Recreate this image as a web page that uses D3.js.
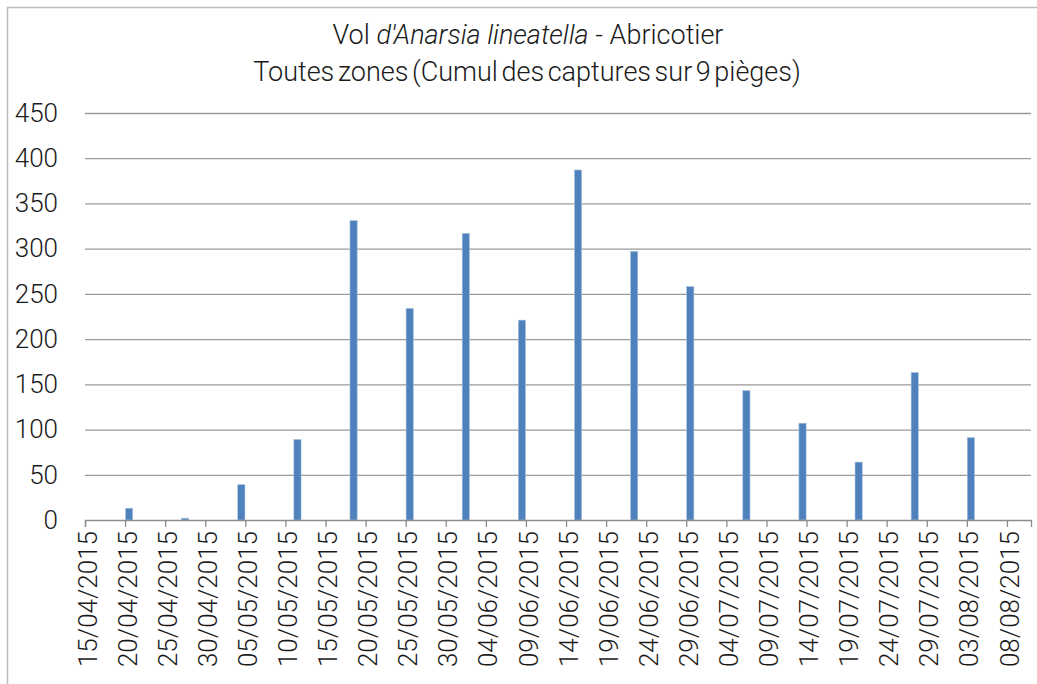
<!DOCTYPE html>
<html>
<head>
<meta charset="utf-8">
<script src="https://cdn.jsdelivr.net/npm/d3@7"></script>
<style>
  body { margin: 0; background: #fff; }
  text { font-family: Roboto, "Open Sans", sans-serif; font-weight: 300; fill: #1a1a1a; }
</style>
</head>
<body>
<div id="chart"></div>
<script>
// chart data
var dates = ["20/04/2015", "27/04/2015", "04/05/2015", "11/05/2015", "18/05/2015", "25/05/2015",
  "01/06/2015", "08/06/2015", "15/06/2015", "22/06/2015", "29/06/2015", "06/07/2015",
  "13/07/2015", "20/07/2015", "27/07/2015", "03/08/2015"];
var captures = [13, 2, 39, 89, 331, 234, 317, 221, 387, 297, 258, 143, 107, 64, 163, 91];
var yTicks = [0, 50, 100, 150, 200, 250, 300, 350, 400, 450];
var titleLine2 = "Toutes zones (Cumul des captures sur 9 pièges)";

// basic setup
var svgWidth = 1037;
var svgHeight = 684;
var margin = { top: 113, right: 6, bottom: 164, left: 85 };
var width = svgWidth - margin.left - margin.right;
var height = svgHeight - margin.top - margin.bottom;

var parseDate = d3.timeParse("%d/%m/%Y");
var fmt = d3.timeFormat("%d/%m/%Y");
var data = dates.map(function(d, i) {
  return { date: parseDate(d), value: captures[i] };
});

var svg = d3.select("#chart")
  .append("svg")
  .attr("width", svgWidth)
  .attr("height", svgHeight);

// outer border of the chart area
svg.append("path")
  .attr("d", "M7.5," + svgHeight + "V7.5H" + svgWidth)
  .attr("fill", "none")
  .attr("stroke", "#bdbdbd")
  .attr("stroke-width", 1.5);

// title
var title = svg.append("text")
  .attr("x", 528)
  .attr("y", 44)
  .attr("text-anchor", "middle")
  .style("font-size", "27px");
title.append("tspan").text("Vol ");
title.append("tspan").style("font-style", "italic").text("d'Anarsia lineatella");
title.append("tspan").text(" - Abricotier");

svg.append("text")
  .attr("x", 527)
  .attr("y", 81)
  .attr("text-anchor", "middle")
  .style("font-size", "27px")
  .style("word-spacing", "-3px")
  .text(titleLine2);

var chartGroup = svg.append("g")
  .attr("transform", `translate(${margin.left}, ${margin.top})`);

// x scale: one day per slot, extends 3 days past the last tick
var start = parseDate("15/04/2015");
var end = d3.timeDay.offset(parseDate("08/08/2015"), 3);
var xScale = d3.scaleTime()
  .domain([start, end])
  .range([0, width]);

var yScale = d3.scaleLinear()
  .domain([0, 450])
  .range([height, 0]);

var dayWidth = xScale(d3.timeDay.offset(start, 1)) - xScale(start);

// grid lines
chartGroup.append("g")
  .selectAll("line")
  .data(yTicks.filter(d => d > 0))
  .enter()
  .append("line")
  .attr("x1", 0)
  .attr("x2", width)
  .attr("y1", d => yScale(d) + 0.5)
  .attr("y2", d => yScale(d) + 0.5)
  .attr("stroke", "#9a9a9a")
  .attr("stroke-width", 1.3);

// y axis labels
var yAxis = d3.axisLeft(yScale)
  .tickValues(yTicks)
  .tickSize(0)
  .tickPadding(27);
var yG = chartGroup.append("g").call(yAxis);
yG.select(".domain").remove();
yG.selectAll("text")
  .style("font-size", "26px")
  .style("font-family", "Roboto, sans-serif")
  .style("font-weight", "300")
  .attr("fill", "#1a1a1a");

// bars
chartGroup.selectAll("rect.bar")
  .data(data)
  .enter()
  .append("rect")
  .classed("bar", true)
  .attr("x", d => xScale(d.date) + dayWidth * 0.5 - 3.6)
  .attr("y", d => yScale(d.value))
  .attr("width", 7.2)
  .attr("height", d => height - yScale(d.value))
  .attr("fill", "#4f81bd")
  .attr("stroke", "#a7c0de")
  .attr("stroke-width", 0.6);

// x axis
var xTickDates = d3.timeDay.range(start, d3.timeDay.offset(parseDate("08/08/2015"), 1), 5);
var xAxis = d3.axisBottom(xScale)
  .tickValues(xTickDates)
  .tickFormat(fmt)
  .tickSizeOuter(0)
  .tickSize(7)
  .tickPadding(8);
var xG = chartGroup.append("g")
  .attr("transform", `translate(0, ${height})`)
  .call(xAxis);
xG.select(".domain").attr("stroke", "#8c8c8c").attr("stroke-width", 1.3);
xG.selectAll(".tick line").attr("stroke", "#8c8c8c").attr("stroke-width", 1.3);
xG.selectAll("text")
  .style("font-size", "26px")
  .style("font-family", "Roboto, sans-serif")
  .style("font-weight", "300")
  .attr("fill", "#1a1a1a")
  .attr("transform", "rotate(-90)")
  .attr("text-anchor", "end")
  .attr("x", -11)
  .attr("y", 2)
  .attr("dy", "0.35em");
</script>
</body>
</html>
